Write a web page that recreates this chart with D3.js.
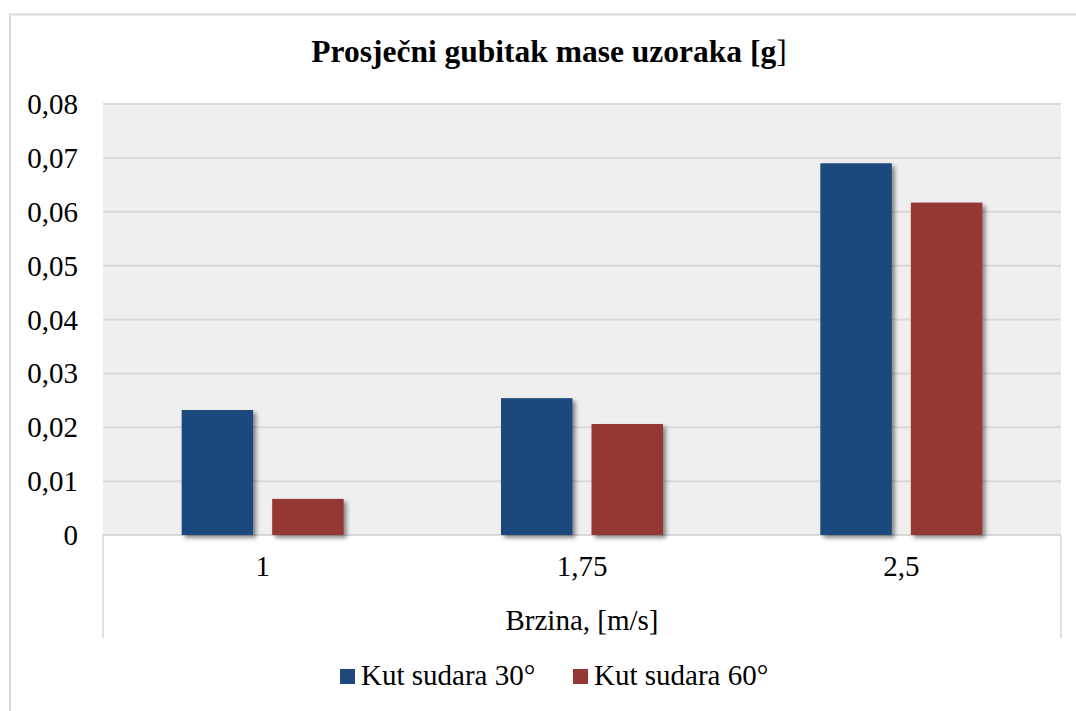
<!DOCTYPE html>
<html>
<head>
<meta charset="utf-8">
<script src="https://cdn.jsdelivr.net/npm/d3@7"></script>
<style>
  body { margin: 0; background: #fff; }
  svg { display: block; }
  text { font-family: "Liberation Serif", "Times New Roman", serif; fill: #000; }
</style>
</head>
<body>
<svg id="chart" width="1076" height="711"></svg>
<script>
// data
const categories = ["1", "1,75", "2,5"];
const seriesNames = ["Kut sudara 30°", "Kut sudara 60°"];
const angle30 = [0.0232, 0.0254, 0.0690];
const angle60 = [0.0067, 0.0206, 0.0617];
const yTicks = [0, 0.01, 0.02, 0.03, 0.04, 0.05, 0.06, 0.07, 0.08];
const colors = ["#1f497d", "#953735"];

const svg = d3.select("#chart"),
      width = +svg.attr("width"),
      height = +svg.attr("height"),
      margin = { top: 104, right: 15, bottom: 176, left: 103 };

const plotBottom = height - margin.bottom;
const plotRight = width - margin.right;

const rows = categories.map((c, i) => ({ cat: c, values: [angle30[i], angle60[i]] }));

// drop shadow for bars
const defs = svg.append("defs");
const f = defs.append("filter").attr("id", "shadow")
  .attr("x", "-20%").attr("y", "-20%").attr("width", "150%").attr("height", "150%");
f.append("feDropShadow")
  .attr("dx", 3).attr("dy", 3).attr("stdDeviation", 2.2)
  .attr("flood-color", "#000").attr("flood-opacity", 0.45);

// outer chart border
svg.append("rect")
  .attr("x", 10).attr("y", 14.5)
  .attr("width", 1090).attr("height", 720)
  .attr("fill", "none").attr("stroke", "#d9d9d9").attr("stroke-width", 2);

const x0 = d3.scaleBand()
  .domain(categories)
  .range([margin.left, plotRight])
  .paddingInner(0).paddingOuter(0);

const groupW = 162;
const x1 = d3.scaleBand()
  .domain(d3.range(seriesNames.length))
  .range([x0.bandwidth() / 2 - groupW / 2, x0.bandwidth() / 2 + groupW / 2])
  .paddingInner(0.21);

const y = d3.scaleLinear()
  .domain([0, 0.08])
  .range([plotBottom, margin.top]);

// plot background
svg.append("rect")
  .attr("x", margin.left).attr("y", margin.top)
  .attr("width", plotRight - margin.left).attr("height", plotBottom - margin.top)
  .attr("fill", "#efefef");

// gridlines
svg.append("g")
  .selectAll("line")
  .data(yTicks)
  .join("line")
  .attr("x1", margin.left).attr("x2", plotRight)
  .attr("y1", d => y(d)).attr("y2", d => y(d))
  .attr("stroke", "#d9d9d9").attr("stroke-width", 2);

// side lines under the plot
svg.append("g")
  .selectAll("line")
  .data([margin.left, plotRight])
  .join("line")
  .attr("x1", d => d).attr("x2", d => d)
  .attr("y1", plotBottom).attr("y2", 638)
  .attr("stroke", "#d9d9d9").attr("stroke-width", 1.5);

// bars
const groups = svg.append("g")
  .selectAll("g")
  .data(rows)
  .join("g")
  .attr("transform", d => `translate(${x0(d.cat)},0)`);

groups.selectAll("rect")
  .data(d => d.values.map((v, i) => ({ i, v })))
  .join("rect")
  .attr("x", d => x1(d.i))
  .attr("width", x1.bandwidth())
  .attr("y", d => y(d.v))
  .attr("height", d => plotBottom - y(d.v))
  .attr("fill", d => colors[d.i])
  .attr("filter", "url(#shadow)");

// y axis labels
const fmt = d3.formatLocale({ decimal: ",", thousands: ".", grouping: [3], currency: ["", ""] }).format(".2f");
svg.append("g")
  .attr("transform", `translate(78,0)`)
  .call(d3.axisLeft(y).tickValues(yTicks).tickSize(0).tickPadding(0)
    .tickFormat(d => d === 0 ? "0" : fmt(d)))
  .call(g => g.select(".domain").remove())
  .selectAll("text")
  .attr("font-family", "Liberation Serif, Times New Roman, serif")
  .attr("font-size", 29)
  .attr("dy", "0.33em");

// x axis labels
svg.append("g")
  .attr("transform", `translate(0,${plotBottom})`)
  .call(d3.axisBottom(x0).tickSize(0).tickPadding(0))
  .call(g => g.select(".domain").remove())
  .selectAll("text")
  .attr("font-family", "Liberation Serif, Times New Roman, serif")
  .attr("font-size", 29)
  .attr("dy", "1.4em");

// axis title
svg.append("text")
  .attr("x", (margin.left + plotRight) / 2)
  .attr("y", 630)
  .attr("text-anchor", "middle")
  .attr("font-size", 29)
  .text("Brzina, [m/s]");

// title
const title = svg.append("text")
  .attr("x", 549)
  .attr("y", 62)
  .attr("text-anchor", "middle")
  .attr("font-size", 31.5);
title.append("tspan").attr("font-weight", "bold").text("Prosječni gubitak mase uzoraka [g");
title.append("tspan").text("]");

// legend
const legend = svg.append("g")
  .selectAll("g")
  .data(seriesNames)
  .join("g")
  .attr("transform", (d, i) => `translate(${340 + i * 233},669)`);

legend.append("rect")
  .attr("width", 15).attr("height", 15)
  .attr("fill", (d, i) => colors[i]);

legend.append("text")
  .attr("x", 21).attr("y", 16)
  .attr("font-size", 29)
  .text(d => d);
</script>
</body>
</html>
